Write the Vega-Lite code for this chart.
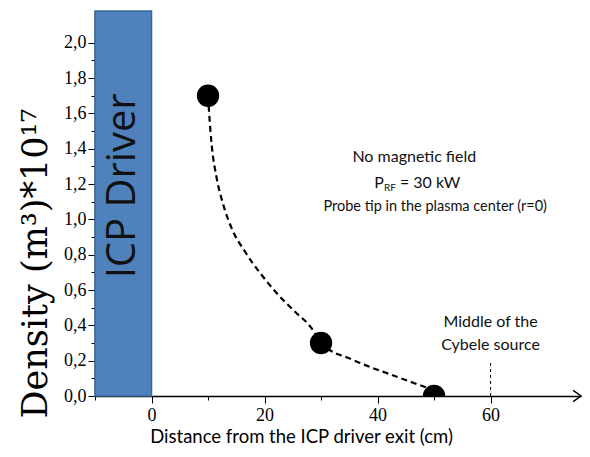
{
  "$schema": "https://vega.github.io/schema/vega-lite/v6.json",
  "width": 486,
  "height": 385,
  "autosize": {"type": "none"},
  "padding": {"left": 95, "top": 11, "right": 9, "bottom": 61},
  "background": "white",
  "config": {
    "view": {"stroke": null},
    "axis": {"grid": false, "domainColor": "black", "tickColor": "black", "labelColor": "black", "titleColor": "black"}
  },
  "datasets": {
    "driver": [{"x": -10, "x2": 0, "y": 0, "y2": 2.18}],
    "driverlabel": [{"x": -5.1, "y": 1.19, "label": "ICP Driver"}],
    "density": [{"x": 10, "y": 1.7}, {"x": 30, "y": 0.3}, {"x": 50, "y": 0.0}],
    "curve": [
      {"x": 10.0, "y": 1.7},
      {"x": 10.18, "y": 1.61},
      {"x": 10.65, "y": 1.421},
      {"x": 11.54, "y": 1.233},
      {"x": 12.71, "y": 1.082},
      {"x": 14.19, "y": 0.949},
      {"x": 16.55, "y": 0.817},
      {"x": 19.5, "y": 0.685},
      {"x": 22.44, "y": 0.572},
      {"x": 25.4, "y": 0.477},
      {"x": 28.35, "y": 0.383},
      {"x": 30.0, "y": 0.3},
      {"x": 35.7, "y": 0.204},
      {"x": 43.4, "y": 0.109},
      {"x": 49.9, "y": 0.034}
    ],
    "middle": [{"x": 60, "y": 0, "y2": 0.19}],
    "notes": [
      {"x": 46.5, "y": 1.354, "label": "No magnetic field", "size": 16},
      {"x": 50.2, "y": 1.071, "label": "Probe tip in the plasma center (r=0)", "size": 14.5}
    ],
    "prf": [
      {"x": 43.6, "y": 1.207, "part": "P"},
      {"x": 43.6, "y": 1.207, "part": "RF"},
      {"x": 43.6, "y": 1.207, "part": "= 30 kW"}
    ],
    "midnotes": [
      {"x": 60, "y": 0.419, "label": "Middle of the"},
      {"x": 60, "y": 0.289, "label": "Cybele source"}
    ],
    "arrow": [{"x": 76, "y": 0}]
  },
  "encoding": {
    "x": {
      "field": "x", "type": "quantitative",
      "scale": {"domain": [-10, 76], "nice": false, "zero": false},
      "axis": {
        "title": "Distance from the ICP driver exit (cm)",
        "values": [-10, 0, 10, 20, 30, 40, 50, 60],
        "format": "d",
        "labelExpr": "datum.value % 20 === 0 && datum.value >= 0 ? datum.label : ''",
        "tickSize": {"condition": {"test": "datum.value % 20 === 0", "value": 7}, "value": 4},
        "domainWidth": 1.5,
        "labelFont": "Liberation Serif", "labelFontSize": 18, "labelPadding": 3,
        "titleFont": "Lato", "titleFontSize": 18.5, "titleFontWeight": "normal",
        "titleX": 206, "titleY": 31
      }
    },
    "y": {
      "field": "y", "type": "quantitative",
      "scale": {"domain": [0, 2.18], "nice": false, "zero": false},
      "axis": {
        "title": "Density (m³)*10¹⁷",
        "values": [0, 0.1, 0.2, 0.3, 0.4, 0.5, 0.6, 0.7, 0.8, 0.9, 1.0, 1.1, 1.2, 1.3, 1.4, 1.5, 1.6, 1.7, 1.8, 1.9, 2.0],
        "labelExpr": "abs(datum.value*5 - round(datum.value*5)) < 0.001 ? replace(format(datum.value, '.1f'), '.', ',') : ''",
        "tickSize": {"condition": {"test": "abs(datum.value*5 - round(datum.value*5)) < 0.001", "value": 7}, "value": 4},
        "domainWidth": 1.5,
        "labelFont": "Liberation Serif", "labelFontSize": 18, "labelPadding": 2,
        "titleFont": "DejaVu Serif", "titleFontSize": 35, "titleFontWeight": "normal",
        "titleX": -42, "titleY": 252
      }
    }
  },
  "layer": [
    {
      "data": {"name": "driver"},
      "mark": {"type": "rect", "fill": "#4F81BD", "stroke": "#3B6897", "strokeWidth": 1.5},
      "encoding": {"x2": {"field": "x2"}, "y2": {"field": "y2"}}
    },
    {
      "data": {"name": "driverlabel"},
      "mark": {"type": "text", "color": "#111111", "font": "Open Sans", "fontSize": 40, "angle": 270, "align": "center", "baseline": "middle"},
      "encoding": {"text": {"field": "label"}}
    },
    {
      "data": {"name": "curve"},
      "mark": {"type": "line", "color": "black", "strokeWidth": 2.2, "strokeDash": [6, 4], "interpolate": "monotone"},
      "encoding": {}
    },
    {
      "data": {"name": "density"},
      "mark": {"type": "circle", "color": "black", "opacity": 1, "size": 500, "clip": true},
      "encoding": {}
    },
    {
      "data": {"name": "middle"},
      "mark": {"type": "rule", "color": "black", "strokeWidth": 1, "strokeDash": [3, 3]},
      "encoding": {"y2": {"field": "y2"}}
    },
    {
      "data": {"name": "notes"},
      "mark": {"type": "text", "color": "#111111", "font": "Lato", "align": "center", "baseline": "middle"},
      "encoding": {"text": {"field": "label"}, "size": {"field": "size", "type": "quantitative", "scale": null}}
    },
    {
      "data": {"name": "prf"},
      "transform": [{"filter": "datum.part === 'P'"}],
      "mark": {"type": "text", "color": "#111111", "font": "Lato", "fontSize": 16, "align": "right", "baseline": "middle", "dx": -14},
      "encoding": {"text": {"field": "part"}}
    },
    {
      "data": {"name": "prf"},
      "transform": [{"filter": "datum.part === 'RF'"}],
      "mark": {"type": "text", "color": "#111111", "font": "Lato", "fontSize": 10, "align": "right", "baseline": "middle", "dx": -2, "dy": 5},
      "encoding": {"text": {"field": "part"}}
    },
    {
      "data": {"name": "prf"},
      "transform": [{"filter": "datum.part === '= 30 kW'"}],
      "mark": {"type": "text", "color": "#111111", "font": "Lato", "fontSize": 16, "align": "left", "baseline": "middle", "dx": 2},
      "encoding": {"text": {"field": "part"}}
    },
    {
      "data": {"name": "midnotes"},
      "mark": {"type": "text", "color": "#111111", "font": "Lato", "fontSize": 16, "align": "center", "baseline": "middle"},
      "encoding": {"text": {"field": "label"}}
    },
    {
      "data": {"name": "arrow"},
      "mark": {"type": "point", "shape": "M -1 -0.7 L 0 0 L -1 0.7", "filled": false, "stroke": "black", "strokeWidth": 1.5, "size": 250, "opacity": 1},
      "encoding": {}
    }
  ]
}
